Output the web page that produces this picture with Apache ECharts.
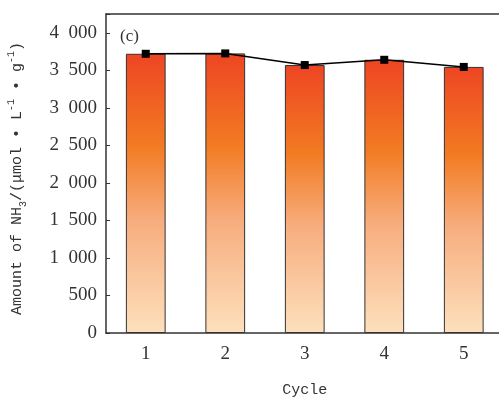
<!DOCTYPE html>
<html><head><meta charset="utf-8">
<script src="https://cdn.jsdelivr.net/npm/echarts@6/dist/echarts.min.js"></script>
<style>html,body{margin:0;padding:0;background:#fff}#c{width:499px;height:398px}</style>
</head><body><div id="c"></div>
<script>
const categories = ['1', '2', '3', '4', '5'];
const amounts = [3720, 3725, 3570, 3640, 3545];
const yTicks = [0, 500, 1000, 1500, 2000, 2500, 3000, 3500, 4000];

function fmt(v) {
  if (yTicks.indexOf(v) < 0) return '';
  const s = String(v);
  return s.length > 3 ? s.slice(0, s.length - 3) + '\u2002' + s.slice(-3) : s;
}

const chart = echarts.init(document.getElementById('c'));
const serif = 'Liberation Serif';
const mono = 'Liberation Mono';
chart.setOption({
  animation: false,
  backgroundColor: '#fff',
  title: {
    text: '(c)', left: 115, top: 23,
    textStyle: { fontFamily: serif, fontSize: 17, fontWeight: 'normal', color: '#333' }
  },
  grid: { left: 106, top: 14, bottom: 65, right: -4.5, outerBoundsMode: 'none', containLabel: false },
  xAxis: [{
    type: 'category', data: categories,
    axisLine: { lineStyle: { color: '#333', width: 1.5 } },
    axisTick: { inside: true, alignWithLabel: true, length: 4, lineStyle: { color: '#333' } },
    axisLabel: { fontFamily: serif, fontSize: 19, color: '#333', margin: 12 },
    name: 'Cycle', nameLocation: 'middle', nameGap: 50,
    nameTextStyle: { fontFamily: mono, fontSize: 15, color: '#333' }
  }, {
    type: 'category', data: categories, position: 'top',
    axisLine: { lineStyle: { color: '#333', width: 1.5 } },
    axisTick: { show: false }, axisLabel: { show: false }
  }],
  yAxis: {
    type: 'value', min: 0, max: 4250, interval: 500,
    splitLine: { show: false },
    axisLine: { show: true, lineStyle: { color: '#333', width: 1.5 } },
    axisTick: { show: true, inside: true, length: 4, lineStyle: { color: '#333' } },
    axisLabel: { fontFamily: serif, fontSize: 19, color: '#333', margin: 9, formatter: fmt },
    name: '{n|Amount of NH}{sub|3}{n|/(μmol • L}{sup|-1}{n| • g}{sup|-1}{n|)}',
    nameLocation: 'middle', nameRotate: 90, nameGap: 78,
    nameTextStyle: {
      padding: [0, 10, 0, 0],
      rich: {
        n: { fontFamily: mono, fontSize: 15, color: '#333', lineHeight: 22, verticalAlign: 'middle' },
        sub: { fontFamily: mono, fontSize: 10, color: '#333', lineHeight: 22, verticalAlign: 'bottom' },
        sup: { fontFamily: mono, fontSize: 10, color: '#333', lineHeight: 22, verticalAlign: 'top' }
      }
    }
  },
  series: [{
    type: 'bar', data: amounts, barWidth: '50%',
    itemStyle: {
      borderColor: '#333', borderWidth: 1,
      color: new echarts.graphic.LinearGradient(0, 0, 0, 1, [
        { offset: 0, color: '#ee4523' },
        { offset: 0.33, color: '#f27b22' },
        { offset: 0.6, color: '#f7ad7e' },
        { offset: 1, color: '#fde0bd' }
      ])
    }
  }, {
    type: 'line', data: amounts, symbol: 'rect', symbolSize: 8,
    itemStyle: { color: '#000' }, lineStyle: { color: '#000', width: 1.5 }
  }]
});
</script></body></html>
